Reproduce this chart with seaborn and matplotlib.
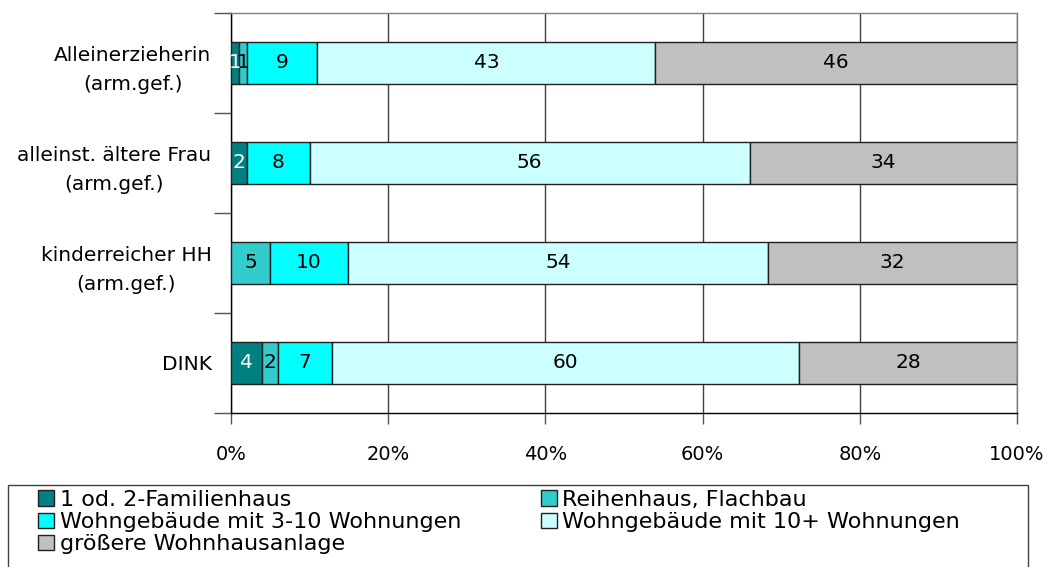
import matplotlib.pyplot as plt
import seaborn as sns
import numpy as np
import pandas as pd
from matplotlib.patches import Rectangle

categories = ["Alleinerzieherin\n(arm.gef.)", "alleinst. ältere Frau\n(arm.gef.)",
              "kinderreicher HH\n(arm.gef.)", "DINK"]
series_names = ["1 od. 2-Familienhaus", "Reihenhaus, Flachbau",
                "Wohngebäude mit 3-10 Wohnungen", "Wohngebäude mit 10+ Wohnungen",
                "größere Wohnhausanlage"]
familienhaus = [1, 2, 0, 4]
reihenhaus = [1, 0, 5, 2]
wohn_3_10 = [9, 8, 10, 7]
wohn_10plus = [43, 56, 54, 60]
anlage = [46, 34, 32, 28]
x_ticks = [0, 20, 40, 60, 80, 100]

colors = ["#008080", "#33CCCC", "#00FFFF", "#CCFFFF", "#C0C0C0"]
text_colors = ["white", "black", "black", "black", "black"]

df = pd.DataFrame(dict(zip(series_names, [familienhaus, reihenhaus, wohn_3_10, wohn_10plus, anlage])),
                  index=categories)
# rows are shown as shares of 100 %
pct = df.div(df.sum(axis=1), axis=0) * 100

sns.set_style("white")
plt.rcParams['font.family'] = ['DejaVu Sans']
plt.rcParams['text.color'] = 'black'
plt.rcParams['xtick.labelcolor'] = 'black'
plt.rcParams['ytick.labelcolor'] = 'black'

fig = plt.figure(figsize=(10.59, 5.67), dpi=100)
ax = fig.add_axes([231 / 1059, 1 - 413 / 567, (1017 - 231) / 1059, 400 / 567])

ypos = np.arange(len(categories))
left = np.zeros(len(categories))
handles = []
for i, name in enumerate(series_names):
    vals = pct[name].values
    bars = ax.barh(ypos, vals, left=left, height=0.42, color=colors[i],
                   edgecolor="#202020", linewidth=1, label=name, zorder=3)
    handles.append(bars)
    for y, v, l, raw in zip(ypos, vals, left, df[name].values):
        if raw > 0:
            ax.text(l + v / 2, y, f"{raw}", ha="center", va="center",
                    color=text_colors[i], fontsize=14.5, zorder=4)
    left += vals

ax.set_xlim(0, 100)
ax.set_ylim(3.5, -0.5)
ax.set_xticks(x_ticks)
ax.set_xticklabels([f"{t}%" for t in x_ticks], fontsize=14)
ax.set_yticks(ypos)
ax.set_yticklabels(categories, fontsize=14.5, multialignment="center", linespacing=1.65)
ax.set_yticks(np.arange(-0.5, 4, 1), minor=True)
ax.tick_params(axis="y", which="major", length=0, pad=14)
ax.tick_params(axis="y", which="minor", length=12, width=1, color="#555555", left=True)
ax.tick_params(axis="x", which="major", length=8, width=1, color="#555555", pad=15, bottom=True)
ax.grid(True, axis="x", color="#404040", linewidth=1, zorder=0)
ax.grid(False, axis="y")
for side in ["top", "right"]:
    ax.spines[side].set_color("#808080")
for side in ["left", "bottom"]:
    ax.spines[side].set_color("black")
for s in ax.spines.values():
    s.set_linewidth(1)

# legend fills rows left to right, matplotlib fills columns
order = [0, 2, 4, 1, 3]
leg = fig.legend([handles[i] for i in order], [series_names[i] for i in order],
                 loc="upper left", bbox_to_anchor=(38 / 1059, 1 - 490 / 567),
                 ncol=2, frameon=False, fontsize=16, handlelength=0.72, handleheight=0.7,
                 handletextpad=0.25, labelspacing=0.1, columnspacing=3.6, borderpad=0,
                 borderaxespad=0)
fig.patches.append(Rectangle((8 / 1059, -0.01), (1028 - 8) / 1059, 1 - 485 / 567 + 0.01,
                             transform=fig.transFigure, fill=False, edgecolor="#404040",
                             linewidth=1))

fig.savefig("out.png", dpi=100)
